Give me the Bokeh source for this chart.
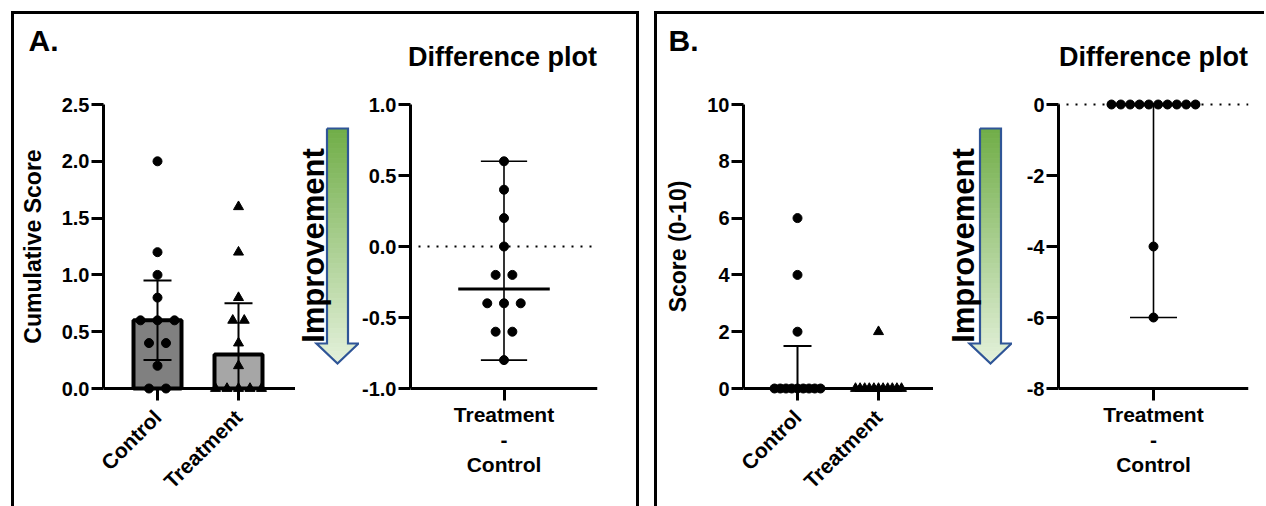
import numpy as np
from math import pi
from bokeh.plotting import figure
from bokeh.models import Range1d, FixedTicker, PrintfTickFormatter, Span, Spacer
from bokeh.layouts import row, column
from bokeh.core.properties import value
from bokeh.embed import file_html
from bokeh.resources import INLINE

FONT = "Liberation Sans"

# ---------------- data ----------------
categories = ["Control", "Treatment"]
diff_category = "Treatment\n-\nControl"
diff_title = "Difference plot"
arrow_text = "Improvement"

a_control = [2.0, 1.2, 1.0, 0.8, 0.6, 0.6, 0.6, 0.4, 0.4, 0.2, 0.0, 0.0]
a_treatment = [1.6, 1.2, 0.8, 0.6, 0.6, 0.4, 0.2, 0.0, 0.0, 0.0, 0.0, 0.0]
a_diff = [0.6, 0.4, 0.2, 0.0, -0.2, -0.2, -0.4, -0.4, -0.4, -0.6, -0.6, -0.8]
a_ylabel = "Cumulative Score"
a_yticks = [0.0, 0.5, 1.0, 1.5, 2.0, 2.5]
a_diff_yticks = [-1.0, -0.5, 0.0, 0.5, 1.0]

b_control = [6, 4, 2, 0, 0, 0, 0, 0, 0, 0, 0, 0]
b_treatment = [2, 0, 0, 0, 0, 0, 0, 0, 0, 0, 0, 0]
b_diff = [0, 0, 0, 0, 0, 0, 0, 0, 0, 0, -4, -6]
b_ylabel = "Score (0-10)"
b_yticks = [0, 2, 4, 6, 8, 10]
b_diff_yticks = [-8, -6, -4, -2, 0]

bar_colors = ["#808080", "#A6A6A6"]
markers = ["circle", "triangle"]

# ---------------- layout (page pixels) ----------------
TOP = 14          # inside of the panel border
HEAD_H = 62       # header strip (page y 14 .. 76)
H = 430           # plot figure height (page y 76 .. 506)
MBT = 20          # frame top at page y 96
MBB = 110         # frame bottom at page y 396
AX_H = 284        # axis span (page y 104 .. 388)
PAD = 8           # frame padding above / below the axis span


def swarm(vals, center, ppu, base_px, max_span_px):
    vals = np.asarray(vals, float)
    xs = np.zeros(len(vals))
    for v in np.unique(vals):
        idx = np.where(vals == v)[0]
        n = len(idx)
        if n > 1:
            s = min(base_px, max_span_px / (n - 1))
            offs = (np.arange(n) - (n - 1) / 2) * s
        else:
            offs = np.zeros(1)
        xs[idx] = center + offs / ppu
    return xs


def style_axis(ax, size="20px"):
    ax.axis_line_width = 3
    ax.axis_line_color = "black"
    ax.major_tick_line_width = 3
    ax.major_tick_line_color = "black"
    ax.major_tick_out = 12
    ax.major_tick_in = 0
    ax.minor_tick_line_color = None
    ax.major_label_text_font = FONT
    ax.major_label_text_font_style = "bold"
    ax.major_label_text_font_size = size
    ax.major_label_text_color = "black"
    ax.major_label_standoff = 2


def style_xaxis(ax, standoff):
    style_axis(ax, "21px")
    ax.axis_line_color = None
    ax.major_tick_in = PAD
    ax.major_tick_out = 12 - PAD
    ax.major_label_standoff = standoff


def base_fig(width, mbl, mbr, x_range, y_range):
    p = figure(width=width, height=H, x_range=x_range, y_range=y_range,
               output_backend="svg", toolbar_location=None,
               min_border_left=mbl, min_border_right=mbr,
               min_border_top=MBT, min_border_bottom=MBB)
    p.grid.visible = False
    p.outline_line_color = None
    p.background_fill_color = "white"
    p.border_fill_color = "white"
    return p


def bar_fig(ctrl, trt, ylabel, yticks, yfmt, mbl, frame_w, right_px):
    ppu_x = 81.0
    ymax = yticks[-1]
    ppu_y = AX_H / ymax
    x0 = 1 - 54.0 / ppu_x
    x_range = Range1d(x0, 2 + right_px / ppu_x)
    y_range = Range1d(-PAD / ppu_y, ymax + PAD / ppu_y)
    p = base_fig(mbl + frame_w, mbl, 0, x_range, y_range)

    groups = [ctrl, trt]
    xpos = [1, 2]
    stats = [np.percentile(g, [25, 50, 75], method="weibull") for g in groups]
    meds = [s[1] for s in stats]
    p.vbar(x=xpos, top=meds, bottom=0, width=48.0 / ppu_x, fill_color=bar_colors,
           line_color="black", line_width=4)
    cap = 14.0 / ppu_x
    for x, s in zip(xpos, stats):
        p.segment(x0=[x], y0=[s[0]], x1=[x], y1=[s[2]], line_color="black", line_width=2)
        p.segment(x0=[x - cap, x - cap], y0=[s[0], s[2]], x1=[x + cap, x + cap],
                  y1=[s[0], s[2]], line_color="black", line_width=2)
    for x, g, m, base in zip(xpos, groups, markers, [17, 11.5]):
        xs = swarm(g, x, ppu_x, base, 46)
        p.scatter(x=xs, y=g, marker=m, size=9 if m == "circle" else 10,
                  fill_color="black", line_color="black")
    p.add_layout(Span(location=0, dimension="width", line_color="black", line_width=3))

    xa = p.xaxis[0]
    style_xaxis(xa, 13)
    xa.ticker = FixedTicker(ticks=xpos)
    xa.major_label_overrides = {1: categories[0], 2: categories[1]}
    xa.major_label_orientation = pi / 4

    ya = p.yaxis[0]
    style_axis(ya)
    ya.bounds = (0, ymax)
    ya.ticker = FixedTicker(ticks=yticks)
    ya.formatter = PrintfTickFormatter(format=yfmt)
    ya.axis_label = ylabel
    ya.axis_label_text_font = FONT
    ya.axis_label_text_font_style = "bold"
    ya.axis_label_text_font_size = "23px"
    ya.axis_label_text_color = "black"
    ya.axis_label_standoff = 13
    return p


def diff_fig(diffs, yticks, yfmt, mbl, mbr):
    ppu_x = 95.0
    ylo, yhi = yticks[0], yticks[-1]
    ppu_y = AX_H / (yhi - ylo)
    x_range = Range1d(-1, 1)
    y_range = Range1d(ylo - PAD / ppu_y, yhi + PAD / ppu_y)
    p = base_fig(mbl + 190 + mbr, mbl, mbr, x_range, y_range)

    p.add_layout(Span(location=0, dimension="width", line_color="black",
                      line_width=2, line_dash="2 7", line_dash_offset=-8))
    d = np.asarray(diffs, float)
    lo, med, hi = d.min(), np.median(d), d.max()
    cap = 23.5 / ppu_x
    mw = 46.5 / ppu_x
    p.segment(x0=[0], y0=[lo], x1=[0], y1=[hi], line_color="black", line_width=1.6)
    p.segment(x0=[-cap, -cap], y0=[lo, hi], x1=[cap, cap], y1=[lo, hi],
              line_color="black", line_width=1.6)
    p.segment(x0=[-mw], y0=[med], x1=[mw], y1=[med], line_color="black", line_width=3)
    xs = swarm(d, 0, ppu_x, 17, 84)
    p.scatter(x=xs, y=d, marker="circle", size=9, fill_color="black", line_color="black")
    p.add_layout(Span(location=ylo, dimension="width", line_color="black", line_width=3))

    xa = p.xaxis[0]
    style_xaxis(xa, 2)
    xa.ticker = FixedTicker(ticks=[0])
    xa.major_label_overrides = {0: diff_category}
    xa.major_label_text_line_height = 1.1

    ya = p.yaxis[0]
    style_axis(ya)
    ya.bounds = (ylo, yhi)
    ya.ticker = FixedTicker(ticks=yticks)
    ya.formatter = PrintfTickFormatter(format=yfmt)
    return p


def arrow_fig(x0, x1, cx, text_x):
    # decoration drawn in page-pixel coordinates (frame spans page y 96..396)
    p = figure(width=x1 - x0, height=H, x_range=Range1d(x0, x1), y_range=Range1d(-396, -96),
               output_backend="svg", toolbar_location=None, title=None,
               min_border_left=0, min_border_right=0,
               min_border_top=MBT, min_border_bottom=MBB,
               x_axis_type=None, y_axis_type=None)
    p.grid.visible = False
    p.outline_line_color = None
    top, base, tip = 128.0, 343.0, 363.0
    bw, hw = 10.5, 21.0
    c0 = np.array([112, 173, 71], float)
    c1 = np.array([228, 241, 219], float)

    def grad(y):
        t = (y - top) / (tip - top)
        c = c0 + (c1 - c0) * t
        return "#%02x%02x%02x" % tuple(int(round(v)) for v in c)

    xs, ys, cols = [], [], []
    e = np.linspace(top, base, 44)
    for a, b in zip(e[:-1], e[1:]):
        xs.append([cx - bw, cx + bw, cx + bw, cx - bw])
        ys.append([-a, -a, -b, -b])
        cols.append(grad((a + b) / 2))
    e = np.linspace(base, tip, 6)
    for a, b in zip(e[:-1], e[1:]):
        wa = hw * (tip - a) / (tip - base)
        wb = hw * (tip - b) / (tip - base)
        xs.append([cx - wa, cx + wa, cx + wb, cx - wb])
        ys.append([-a, -a, -b, -b])
        cols.append(grad((a + b) / 2))
    p.patches(xs, ys, fill_color=cols, line_color=cols, line_width=0.8)
    ox = [cx - bw, cx + bw, cx + bw, cx + hw, cx, cx - hw, cx - bw, cx - bw]
    oy = [-top, -top, -base, -base, -tip, -base, -base, -top]
    p.line(ox, oy, line_color="#2F5597", line_width=2.2, line_join="miter")
    p.text(x=[text_x], y=[-245], text=[arrow_text], angle=pi / 2,
           text_align="center", text_baseline="middle",
           text_font=value(FONT), text_font_style="bold", text_font_size="31px",
           text_color="black")
    return p


def header_fig(x0, x1, letter, letter_x, title_cx):
    # header strip in page-pixel coordinates (page y 14 .. 76)
    p = figure(width=x1 - x0, height=HEAD_H, x_range=Range1d(x0, x1),
               y_range=Range1d(-(TOP + HEAD_H), -TOP), title=None,
               output_backend="svg", toolbar_location=None,
               min_border_left=0, min_border_right=0, min_border_top=0, min_border_bottom=0,
               x_axis_type=None, y_axis_type=None)
    p.grid.visible = False
    p.outline_line_color = None
    p.text(x=[letter_x], y=[-39.5], text=[letter], text_align="left",
           text_baseline="middle", text_font=value(FONT), text_font_style="bold",
           text_font_size="30px", text_color="black")
    p.text(x=[title_cx], y=[-56.5], text=[diff_title], text_align="center",
           text_baseline="middle", text_font=value(FONT), text_font_style="bold",
           text_font_size="27px", text_color="black")
    return p


barA = bar_fig(a_control, a_treatment, a_ylabel, a_yticks, "%.1f", 89, 192, 57)
arrA = arrow_fig(295, 359, 337, 313)
diffA = diff_fig(a_diff, a_diff_yticks, "%.1f", 48, 39)
headA = header_fig(14, 636, "A.", 28, 502)

barB = bar_fig(b_control, b_treatment, b_ylabel, b_yticks, "%d", 86, 190, 55)
arrB = arrow_fig(933, 1012, 990, 963)
diffB = diff_fig(b_diff, b_diff_yticks, "%d", 46, 16)
headB = header_fig(657, 1264, "B.", 668, 1153)

panelA = column([headA, row([barA, arrA, diffA])], styles={
    "border-top": "3px solid black", "border-left": "3px solid black",
    "border-right": "3px solid black"})
panelB = column([headB, row([barB, arrB, diffB])], styles={
    "border-top": "3px solid black", "border-left": "3px solid black"})

root = column([Spacer(width=10, height=11),
               row([Spacer(width=11, height=10), panelA, Spacer(width=15, height=10), panelB])])

open("out.html", "w").write(file_html(root, INLINE))
